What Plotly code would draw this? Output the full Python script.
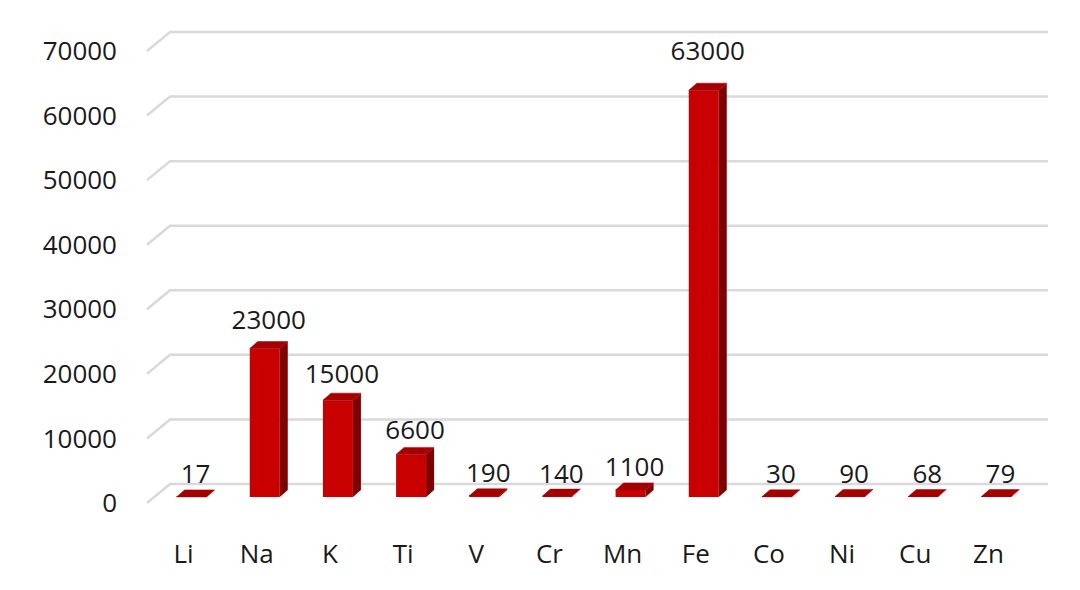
import plotly.graph_objects as go

# data
elements = ["Li", "Na", "K", "Ti", "V", "Cr", "Mn", "Fe", "Co", "Ni", "Cu", "Zn"]
amounts = [17, 23000, 15000, 6600, 190, 140, 1100, 63000, 30, 90, 68, 79]
amount_labels = ["17", "23000", "15000", "6600", "190", "140", "1100", "63000", "30", "90", "68", "79"]
y_ticks = [0, 10000, 20000, 30000, 40000, 50000, 60000, 70000]

# scale helpers (pixels per unit) so the fake 3d offsets can be given in px
PX_X = 73.17            # px per category
PX_Y = 452 / 70000      # px per value unit


def px_x(p):
    return p / PX_X


def px_y(p):
    return p / PX_Y


FONT = "Open Sans"
TXT = "#1a1a1a"
FRONT = "#c80000"
SIDE = "#7e0000"
TOP = "#a40000"
GRID = "#d9d9d9"

bar_w = px_x(30)
front_dx, front_dy = px_x(8), px_y(6)      # bar front sits a bit back from floor edge
depth_dx, depth_dy = px_x(8), px_y(7)      # bar depth
wall_dx, wall_dy = px_x(23), px_y(19)      # back wall offset

n = len(elements)
xs = list(range(n))

fig = go.Figure()

# back wall gridlines with slanted floor/side piece
for t in y_ticks:
    fig.add_shape(type="path",
                  path=f"M {-0.5} {t} L {-0.5 + wall_dx} {t + wall_dy} L {n - 0.5 + wall_dx} {t + wall_dy}",
                  xref="x", yref="y", line=dict(color=GRID, width=2.5), layer="below")

# front faces
fig.add_trace(go.Bar(
    x=[x + front_dx for x in xs], y=amounts, base=front_dy, width=bar_w,
    marker=dict(color=FRONT, line=dict(width=0)), hoverinfo="skip"
))

# side and top faces
side_x, side_y, top_x, top_y = [], [], [], []
for x, v in zip(xs, amounts):
    l = x + front_dx - bar_w / 2
    r = x + front_dx + bar_w / 2
    b = front_dy
    h = front_dy + v
    side_x += [r, r + depth_dx, r + depth_dx, r, r, None]
    side_y += [b, b + depth_dy, h + depth_dy, h, b, None]
    top_x += [l, r, r + depth_dx, l + depth_dx, l, None]
    top_y += [h, h, h + depth_dy, h + depth_dy, h, None]

fig.add_trace(go.Scatter(x=side_x, y=side_y, mode="lines", fill="toself",
                         fillcolor=SIDE, line=dict(width=0, color=SIDE), hoverinfo="skip"))
fig.add_trace(go.Scatter(x=top_x, y=top_y, mode="lines", fill="toself",
                         fillcolor=TOP, line=dict(width=0.5, color=TOP), hoverinfo="skip"))

# value labels
fig.add_trace(go.Scatter(
    x=[x + front_dx + depth_dx / 2 for x in xs],
    y=[v + front_dy + depth_dy + 0.04 * v for v in amounts],
    mode="text", text=amount_labels, textposition="top center",
    textfont=dict(family=FONT, size=26, color=TXT), cliponaxis=False, hoverinfo="skip"
))

fig.update_layout(
    width=1080, height=590,
    margin=dict(l=116, r=28, t=12, b=62),
    paper_bgcolor="white", plot_bgcolor="white",
    showlegend=False,
    font=dict(family=FONT, size=26, color=TXT),
    xaxis=dict(range=[-0.5 - px_x(23), n - 0.5 + px_x(35)],
               tickvals=xs, ticktext=elements,
               showgrid=False, zeroline=False, showline=False, ticks=""),
    yaxis=dict(range=[-px_y(33), px_y(483)],
               tickvals=y_ticks, ticktext=[str(t) for t in y_ticks],
               showgrid=False, zeroline=False, showline=False, ticks="",
               ticklabelstandoff=6),
)

fig.write_html("out.html")
